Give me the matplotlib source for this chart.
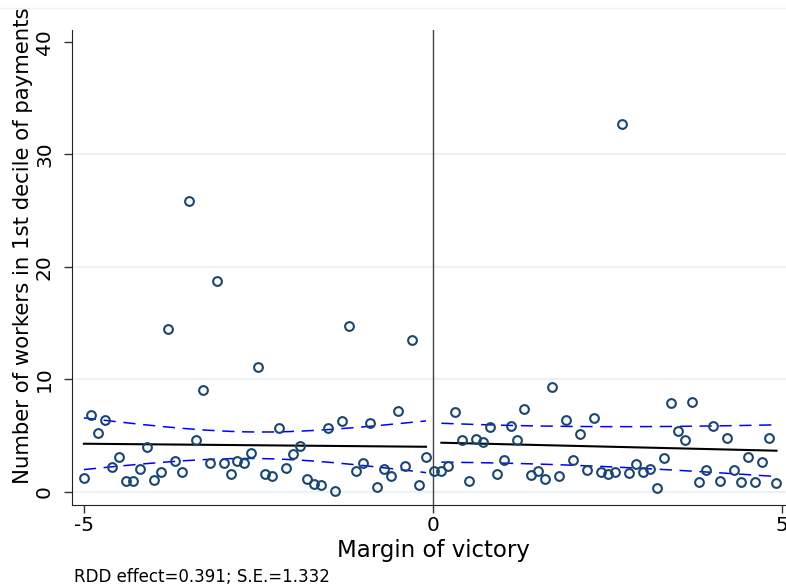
import numpy as np
import matplotlib.pyplot as plt
from matplotlib.lines import Line2D

# binned means, left of cutoff (x = bin position)
x_left = [-5.0, -4.9, -4.8, -4.7, -4.6, -4.5, -4.4, -4.3, -4.2, -4.1,
          -4.0, -3.9, -3.8, -3.7, -3.6, -3.5, -3.4, -3.3, -3.2, -3.1,
          -3.0, -2.9, -2.8, -2.7, -2.6, -2.5, -2.4, -2.3, -2.2, -2.1,
          -2.0, -1.9, -1.8, -1.7, -1.6, -1.5, -1.4, -1.3, -1.2, -1.1,
          -1.0, -0.9, -0.8, -0.7, -0.6, -0.5, -0.4, -0.3, -0.2, -0.1]
y_left = [1.19, 6.8, 5.22, 6.4, 2.17, 3.11, 0.98, 0.98, 1.99, 3.95,
          1.01, 1.73, 14.45, 2.7, 1.75, 25.86, 4.6, 9.05, 2.55, 18.77,
          2.58, 1.57, 2.76, 2.58, 3.44, 11.07, 1.6, 1.42, 5.67, 2.08,
          3.35, 4.07, 1.13, 0.66, 0.62, 5.67, 0.04, 6.26, 14.71, 1.87,
          2.52, 6.11, 0.45, 2.02, 1.37, 7.21, 2.26, 13.5, 0.57, 3.11]

# binned means, right of cutoff
x_right = [0.01, 0.11, 0.21, 0.31, 0.41, 0.51, 0.61, 0.71, 0.81, 0.91,
           1.01, 1.11, 1.21, 1.31, 1.41, 1.51, 1.61, 1.71, 1.81, 1.91,
           2.01, 2.11, 2.21, 2.31, 2.41, 2.51, 2.61, 2.71, 2.81, 2.91,
           3.01, 3.11, 3.21, 3.31, 3.41, 3.51, 3.61, 3.71, 3.81, 3.91,
           4.01, 4.11, 4.21, 4.31, 4.41, 4.51, 4.61, 4.71, 4.81, 4.91]
y_right = [1.81, 1.81, 2.29, 7.06, 4.57, 0.92, 4.72, 4.45, 5.76, 1.54,
           2.79, 5.85, 4.6, 7.33, 1.49, 1.84, 1.1, 9.29, 1.42, 6.38,
           2.82, 5.1, 1.93, 6.58, 1.73, 1.57, 1.78, 32.7, 1.66, 2.43,
           1.73, 2.05, 0.3, 3.0, 7.86, 5.4, 4.63, 8.01, 0.86, 1.93,
           5.85, 0.95, 4.81, 1.96, 0.83, 3.11, 0.83, 2.67, 4.78, 0.8]

# linear fit: (x start, x end, y start, y end)
fit_left = (-5.0, -0.1, 4.27, 4.0)
fit_right = (0.12, 4.92, 4.36, 3.65)
# CI half width: sqrt(a + b*(x - m)^2) -> (m, a, b)
ci_left = (-2.55, 1.39, 0.65)
ci_right = (1.085, 2.836, 0.167)

navy = '#1a476f'

fig = plt.figure(figsize=(7.86, 5.88), dpi=100)
ax = fig.add_axes([72/786, 83/588, 722/786, 475/588])

for v in [0, 10, 20, 30]:
    ax.axhline(v, color='#eaf0f3', lw=1.3, zorder=0)

ax.axvline(0, color='#444444', lw=1.0, zorder=1)

ax.plot(x_left, y_left, 'o', ms=6.3, mfc='none', mec=navy, mew=1.5, zorder=3)
ax.plot(x_right, y_right, 'o', ms=6.3, mfc='none', mec=navy, mew=1.5, zorder=3)


def draw_fit(fit, ci):
    x0, x1, y0, y1 = fit
    m, a, b = ci
    xs = np.linspace(x0, x1, 200)
    yhat = y0 + (y1 - y0) * (xs - x0) / (x1 - x0)
    hw = np.sqrt(a + b * (xs - m) ** 2)
    ax.plot(xs, yhat, color='black', lw=1.5, zorder=2)
    ax.plot(xs, yhat + hw, color='blue', lw=1.1, dashes=(8, 5), zorder=2)
    ax.plot(xs, yhat - hw, color='blue', lw=1.1, dashes=(8, 5), zorder=2)


draw_fit(fit_left, ci_left)
draw_fit(fit_right, ci_right)

ax.set_xlim(-5.17, 5.17)
ax.set_ylim(-1.18, 41.07)
ax.set_xticks([-5, 0, 5])
ax.set_xticklabels(['-5', '0', '5'])
ax.set_yticks([0, 10, 20, 30, 40])
ax.tick_params(axis='both', labelsize=14.5, length=6, width=1, color='#333333')
ax.tick_params(axis='x', pad=2)
ax.tick_params(axis='y', pad=7)
for lab in ax.get_yticklabels():
    lab.set_rotation(90)
    lab.set_va('center')

for side in ['top', 'right']:
    ax.spines[side].set_visible(False)
ax.spines['left'].set_color('#222222')
ax.spines['bottom'].set_color('#222222')

ax.set_xlabel('Margin of victory', fontsize=16.5, labelpad=3)
ax.set_ylabel('Number of workers in 1st decile of payments', fontsize=15.3)
ax.yaxis.set_label_coords(-0.054, 0.545)

fig.lines.append(Line2D([0, 1], [1 - 7.5/588, 1 - 7.5/588], transform=fig.transFigure,
                        color='#eef2f3', lw=1))
fig.text(74/786, 1 - 577/588, 'RDD effect=0.391; S.E.=1.332', fontsize=12,
         va='center', ha='left')

fig.savefig('out.png', dpi=100)
